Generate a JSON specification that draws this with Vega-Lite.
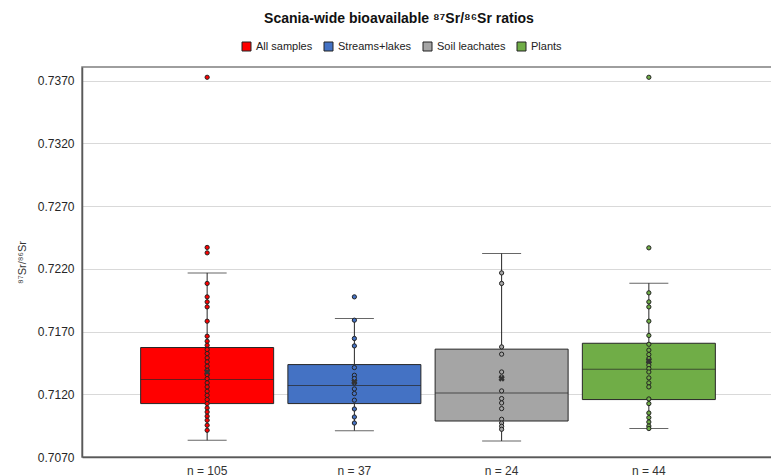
{
  "$schema": "https://vega.github.io/schema/vega-lite/v6.json",
  "autosize": {"type": "none"},
  "width": 692,
  "height": 390,
  "padding": {"left": 82, "top": 67, "right": 0, "bottom": 20},
  "background": "white",
  "config": {
    "font": "Liberation Sans",
    "view": {"stroke": "#7f7f7f", "strokeWidth": 1.5}
  },
  "title": {
    "text": "Scania-wide bioavailable ⁸⁷Sr/⁸⁶Sr ratios",
    "fontSize": 14,
    "fontWeight": "bold",
    "color": "#111",
    "anchor": "middle",
    "dx": -29,
    "offset": 15
  },
  "datasets": {
    "boxes": [
      {"group": "All samples", "lower": 0.70833, "q1": 0.71126, "median": 0.71318, "q3": 0.71573, "upper": 0.72168, "mean": 0.71378},
      {"group": "Streams+lakes", "lower": 0.70910, "q1": 0.71126, "median": 0.71270, "q3": 0.71437, "upper": 0.71805, "mean": 0.71300},
      {"group": "Soil leachates", "lower": 0.70828, "q1": 0.70987, "median": 0.71211, "q3": 0.71560, "upper": 0.72323, "mean": 0.71326},
      {"group": "Plants", "lower": 0.70927, "q1": 0.71158, "median": 0.71400, "q3": 0.71607, "upper": 0.72086, "mean": 0.71465}
    ],
    "points": [
      {"group": "All samples", "value": 0.73728},
      {"group": "All samples", "value": 0.72371},
      {"group": "All samples", "value": 0.72328},
      {"group": "All samples", "value": 0.72084},
      {"group": "All samples", "value": 0.71977},
      {"group": "All samples", "value": 0.71937},
      {"group": "All samples", "value": 0.71897},
      {"group": "All samples", "value": 0.71783},
      {"group": "All samples", "value": 0.71663},
      {"group": "All samples", "value": 0.71623},
      {"group": "All samples", "value": 0.71591},
      {"group": "All samples", "value": 0.71557},
      {"group": "All samples", "value": 0.71525},
      {"group": "All samples", "value": 0.71490},
      {"group": "All samples", "value": 0.71458},
      {"group": "All samples", "value": 0.71424},
      {"group": "All samples", "value": 0.71392},
      {"group": "All samples", "value": 0.71357},
      {"group": "All samples", "value": 0.71325},
      {"group": "All samples", "value": 0.71291},
      {"group": "All samples", "value": 0.71259},
      {"group": "All samples", "value": 0.71224},
      {"group": "All samples", "value": 0.71192},
      {"group": "All samples", "value": 0.71158},
      {"group": "All samples", "value": 0.71126},
      {"group": "All samples", "value": 0.71091},
      {"group": "All samples", "value": 0.71059},
      {"group": "All samples", "value": 0.71025},
      {"group": "All samples", "value": 0.70993},
      {"group": "All samples", "value": 0.70953},
      {"group": "All samples", "value": 0.70913},
      {"group": "Streams+lakes", "value": 0.71977},
      {"group": "Streams+lakes", "value": 0.71791},
      {"group": "Streams+lakes", "value": 0.71645},
      {"group": "Streams+lakes", "value": 0.71586},
      {"group": "Streams+lakes", "value": 0.71413},
      {"group": "Streams+lakes", "value": 0.71352},
      {"group": "Streams+lakes", "value": 0.71326},
      {"group": "Streams+lakes", "value": 0.71291},
      {"group": "Streams+lakes", "value": 0.71243},
      {"group": "Streams+lakes", "value": 0.71206},
      {"group": "Streams+lakes", "value": 0.71153},
      {"group": "Streams+lakes", "value": 0.71083},
      {"group": "Streams+lakes", "value": 0.71019},
      {"group": "Streams+lakes", "value": 0.70971},
      {"group": "Soil leachates", "value": 0.72168},
      {"group": "Soil leachates", "value": 0.72084},
      {"group": "Soil leachates", "value": 0.71578},
      {"group": "Soil leachates", "value": 0.71520},
      {"group": "Soil leachates", "value": 0.71378},
      {"group": "Soil leachates", "value": 0.71338},
      {"group": "Soil leachates", "value": 0.71227},
      {"group": "Soil leachates", "value": 0.71166},
      {"group": "Soil leachates", "value": 0.71131},
      {"group": "Soil leachates", "value": 0.71086},
      {"group": "Soil leachates", "value": 0.71001},
      {"group": "Soil leachates", "value": 0.70971},
      {"group": "Soil leachates", "value": 0.70945},
      {"group": "Soil leachates", "value": 0.70921},
      {"group": "Plants", "value": 0.73728},
      {"group": "Plants", "value": 0.72368},
      {"group": "Plants", "value": 0.72009},
      {"group": "Plants", "value": 0.71937},
      {"group": "Plants", "value": 0.71897},
      {"group": "Plants", "value": 0.71783},
      {"group": "Plants", "value": 0.71669},
      {"group": "Plants", "value": 0.71599},
      {"group": "Plants", "value": 0.71552},
      {"group": "Plants", "value": 0.71517},
      {"group": "Plants", "value": 0.71485},
      {"group": "Plants", "value": 0.71458},
      {"group": "Plants", "value": 0.71432},
      {"group": "Plants", "value": 0.71405},
      {"group": "Plants", "value": 0.71378},
      {"group": "Plants", "value": 0.71331},
      {"group": "Plants", "value": 0.71291},
      {"group": "Plants", "value": 0.71259},
      {"group": "Plants", "value": 0.71163},
      {"group": "Plants", "value": 0.71126},
      {"group": "Plants", "value": 0.71051},
      {"group": "Plants", "value": 0.71014},
      {"group": "Plants", "value": 0.70979},
      {"group": "Plants", "value": 0.70947},
      {"group": "Plants", "value": 0.70927}
    ]
  },
  "layer": [
    {
      "data": {"name": "boxes"},
      "mark": {"type": "rule", "color": "#262626", "strokeWidth": 1},
      "encoding": {
        "x": {
          "field": "group", "type": "nominal", "sort": null,
          "scale": {"domain": ["All samples", "Streams+lakes", "Soil leachates", "Plants"], "paddingInner": 0, "paddingOuter": 0.35},
          "axis": {
            "title": null, "labelAngle": 0, "ticks": false, "grid": false,
            "domainColor": "#595959", "domainWidth": 1.5,
            "labelFontSize": 12, "labelColor": "#333", "labelPadding": 8,
            "labelExpr": "datum.value == 'All samples' ? 'n = 105' : datum.value == 'Streams+lakes' ? 'n = 37' : datum.value == 'Soil leachates' ? 'n = 24' : 'n = 44'"
          }
        },
        "y": {
          "field": "q3", "type": "quantitative",
          "scale": {"domain": [0.707, 0.7381], "nice": false, "zero": false},
          "axis": {
            "title": "⁸⁷Sr/⁸⁶Sr", "titleFontSize": 11, "titleFontWeight": "normal", "titleColor": "#333", "titlePadding": 10,
            "values": [0.707, 0.712, 0.717, 0.722, 0.727, 0.732, 0.737],
            "format": ".4f", "ticks": false, "labelPadding": 8,
            "labelFontSize": 12, "labelColor": "#262626",
            "gridColor": "#d9d9d9", "gridWidth": 1,
            "domainColor": "#595959", "domainWidth": 1.5
          }
        },
        "y2": {"field": "upper"}
      }
    },
    {
      "data": {"name": "boxes"},
      "mark": {"type": "rule", "color": "#262626", "strokeWidth": 1},
      "encoding": {
        "x": {"field": "group", "type": "nominal", "sort": null},
        "y": {"field": "lower", "type": "quantitative"},
        "y2": {"field": "q1"}
      }
    },
    {
      "data": {"name": "boxes"},
      "mark": {"type": "tick", "color": "#262626", "size": 39, "thickness": 1, "orient": "horizontal"},
      "encoding": {
        "x": {"field": "group", "type": "nominal", "sort": null},
        "y": {"field": "upper", "type": "quantitative"}
      }
    },
    {
      "data": {"name": "boxes"},
      "mark": {"type": "tick", "color": "#262626", "size": 39, "thickness": 1, "orient": "horizontal"},
      "encoding": {
        "x": {"field": "group", "type": "nominal", "sort": null},
        "y": {"field": "lower", "type": "quantitative"}
      }
    },
    {
      "data": {"name": "boxes"},
      "mark": {"type": "bar", "size": 133, "stroke": "#262626", "strokeWidth": 1},
      "encoding": {
        "x": {"field": "group", "type": "nominal", "sort": null},
        "y": {"field": "q1", "type": "quantitative"},
        "y2": {"field": "q3"},
        "color": {
          "field": "group", "type": "nominal",
          "scale": {"domain": ["All samples", "Streams+lakes", "Soil leachates", "Plants"], "range": ["#FF0000", "#4472C4", "#A5A5A5", "#70AD47"]},
          "legend": {
            "title": null, "orient": "none", "direction": "horizontal",
            "legendX": 159, "legendY": -26,
            "symbolType": "square", "symbolSize": 81, "symbolStrokeColor": "#111", "symbolStrokeWidth": 1,
            "labelFontSize": 11, "labelColor": "#222", "labelOffset": 4, "columnPadding": 9
          }
        }
      }
    },
    {
      "data": {"name": "boxes"},
      "mark": {"type": "tick", "color": "#262626", "size": 133, "thickness": 1, "orient": "horizontal"},
      "encoding": {
        "x": {"field": "group", "type": "nominal", "sort": null},
        "y": {"field": "median", "type": "quantitative"}
      }
    },
    {
      "data": {"name": "points"},
      "mark": {"type": "point", "filled": true, "size": 18, "stroke": "#222", "strokeWidth": 1, "opacity": 1},
      "encoding": {
        "x": {"field": "group", "type": "nominal", "sort": null},
        "y": {"field": "value", "type": "quantitative"},
        "color": {"field": "group", "type": "nominal"}
      }
    },
    {
      "data": {"name": "boxes"},
      "mark": {"type": "point", "shape": "cross", "angle": 45, "filled": true, "size": 40, "color": "#333", "opacity": 1},
      "encoding": {
        "x": {"field": "group", "type": "nominal", "sort": null},
        "y": {"field": "mean", "type": "quantitative"}
      }
    }
  ]
}
